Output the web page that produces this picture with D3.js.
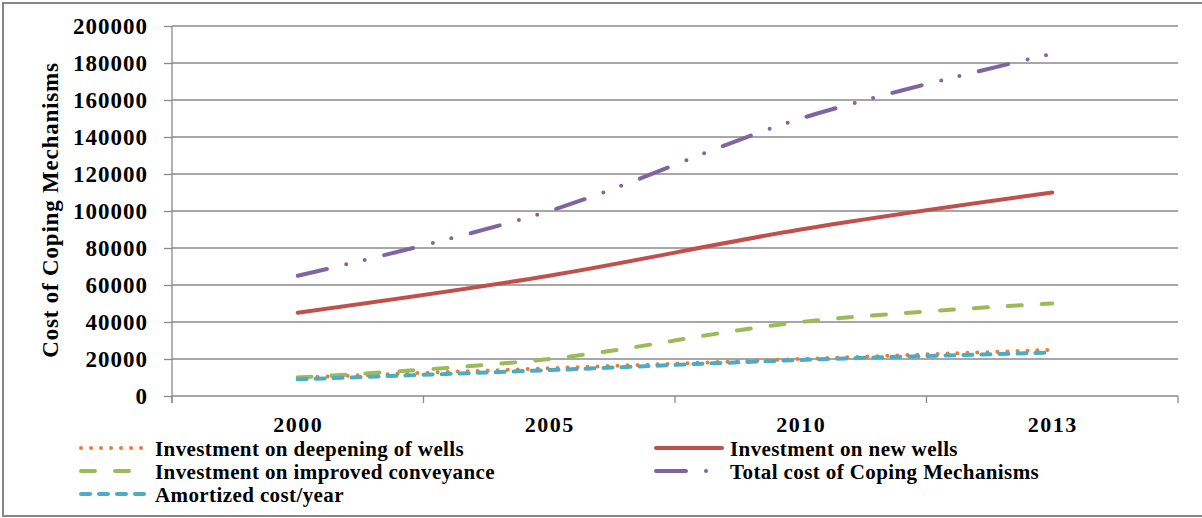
<!DOCTYPE html>
<html>
<head>
<meta charset="utf-8">
<script src="https://cdn.jsdelivr.net/npm/d3@7/dist/d3.min.js"></script>
<style>
  html, body { margin: 0; padding: 0; background: #fff; }
  svg { display: block; }
  text { font-family: "Liberation Serif", "Times New Roman", serif; font-weight: bold; fill: #000; }
</style>
</head>
<body>
<svg id="chart" width="1202" height="518"></svg>
<script>
// Years on the category axis
const years = ["2000", "2005", "2010", "2013"];

// Cost series, one value per year
const deepeningWells   = [10000, 15000, 20000, 25000];
const newWells         = [45000, 65000, 90000, 110000];
const improvedConvey   = [10000, 20000, 40000, 50000];
const totalCost        = [65000, 100000, 150000, 185000];
const amortizedPerYear = [9000, 14000, 19500, 23500];

// Value axis ticks
const yTicks = [0, 20000, 40000, 60000, 80000, 100000, 120000, 140000, 160000, 180000, 200000];

const seriesNames = [
  "Investment on deepening of wells",
  "Investment on new wells",
  "Investment on improved conveyance",
  "Total cost of Coping Mechanisms",
  "Amortized cost/year"
];

const series = [
  { name: seriesNames[0], values: deepeningWells,   color: "#F07B2C", dash: "0,10" },
  { name: seriesNames[1], values: newWells,         color: "#C0504D", dash: null },
  { name: seriesNames[2], values: improvedConvey,   color: "#9BBB59", dash: "14,20" },
  { name: seriesNames[3], values: totalCost,        color: "#8064A2", dash: "30,20,0,19,0,20" },
  { name: seriesNames[4], values: amortizedPerYear, color: "#4BACC6", dash: "9,9" }
];

const svg = d3.select("#chart");

// outer frame (right edge runs past the canvas)
svg.append("rect")
  .attr("x", 3).attr("y", 3).attr("width", 1215).attr("height", 513)
  .attr("fill", "#fff").attr("stroke", "#868686").attr("stroke-width", 2);

const plot = { left: 172, right: 1178, top: 26, bottom: 396 };

const x = d3.scaleBand().domain(years).range([plot.left, plot.right]).padding(0);
const y = d3.scaleLinear().domain([0, 200000]).range([plot.bottom, plot.top]);

const gridColor = "#8a8a8a";

// horizontal gridlines
svg.append("g").selectAll("line").data(yTicks).join("line")
  .attr("x1", plot.left).attr("x2", plot.right)
  .attr("y1", d => y(d)).attr("y2", d => y(d))
  .attr("stroke", gridColor).attr("stroke-width", 1.3);

// value axis
const yAxis = d3.axisLeft(y).tickValues(yTicks).tickSize(8).tickFormat(d3.format("d")).tickPadding(17);
const gy = svg.append("g").attr("transform", `translate(${plot.left},0)`).call(yAxis);
gy.select(".domain").attr("stroke", gridColor).attr("stroke-width", 1.3)
  .attr("d", `M0,${plot.top}V${plot.bottom + 7}`);
gy.selectAll(".tick line").attr("stroke", gridColor).attr("stroke-width", 1.3);
gy.selectAll(".tick text")
  .style("font-family", "'Liberation Serif', serif").style("font-weight", "bold")
  .style("font-size", "23px").style("letter-spacing", "1px")
  .attr("fill", "#000").attr("dy", "0.34em").attr("dx", "1px");

// category axis: ticks at category boundaries
const boundaries = years.map(d => x(d)).concat([plot.right]);
svg.append("g").selectAll("line").data(boundaries).join("line")
  .attr("x1", d => d).attr("x2", d => d)
  .attr("y1", plot.bottom).attr("y2", plot.bottom + 7)
  .attr("stroke", gridColor).attr("stroke-width", 1.3);

svg.append("g").selectAll("text").data(years).join("text")
  .attr("x", d => x(d) + x.bandwidth() / 2 + 0.5)
  .attr("y", 432)
  .attr("text-anchor", "middle")
  .style("font-size", "22px").style("letter-spacing", "1.5px")
  .text(d => d);

// axis title
svg.append("text")
  .attr("transform", "translate(58,210) rotate(-90)")
  .attr("text-anchor", "middle")
  .style("font-size", "23px").style("letter-spacing", "0.8px")
  .text("Cost of Coping Mechanisms");

// series lines
const line = d3.line()
  .x((d, i) => x(years[i]) + x.bandwidth() / 2)
  .y(d => y(d))
  .curve(d3.curveCatmullRom.alpha(0));

svg.append("g").selectAll("path").data(series).join("path")
  .attr("d", d => line(d.values))
  .attr("fill", "none")
  .attr("stroke", d => d.color)
  .attr("stroke-width", 4)
  .attr("stroke-linecap", "round")
  .attr("stroke-linejoin", "round")
  .attr("stroke-dasharray", d => d.dash);

// legend
const legendPos = [
  { sx: 81,  tx: 155, base: 456 },
  { sx: 656, tx: 730, base: 456 },
  { sx: 81,  tx: 155, base: 479 },
  { sx: 656, tx: 730, base: 479 },
  { sx: 81,  tx: 155, base: 502 }
];

const lg = svg.append("g").selectAll("g").data(series).join("g");
lg.append("line")
  .attr("x1", (d, i) => legendPos[i].sx)
  .attr("x2", (d, i) => legendPos[i].sx + 66)
  .attr("y1", (d, i) => legendPos[i].base - 8)
  .attr("y2", (d, i) => legendPos[i].base - 8)
  .attr("stroke", d => d.color)
  .attr("stroke-width", 4)
  .attr("stroke-linecap", "round")
  .attr("stroke-dasharray", d => d.dash);
lg.append("text")
  .attr("x", (d, i) => legendPos[i].tx)
  .attr("y", (d, i) => legendPos[i].base)
  .style("font-size", "21px").style("letter-spacing", "0.4px")
  .text(d => d.name);
</script>
</body>
</html>
